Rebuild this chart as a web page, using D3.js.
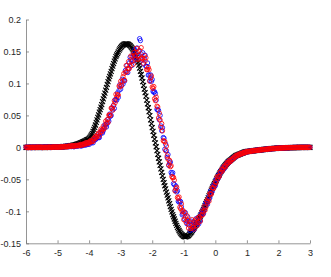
<!DOCTYPE html>
<html>
<head>
<meta charset="utf-8">
<script src="https://cdn.jsdelivr.net/npm/d3@7"></script>
<style>
  body { margin: 0; background: #fff; }
  svg { display: block; }
  .tick text { font-family: "Liberation Sans", Arial, sans-serif; font-size: 9px; fill: #262626; }
</style>
</head>
<body>
<svg id="chart" width="331" height="277"></svg>
<script>
// sample grid (x) shared by all three series: -6 .. 3
var xStart = -6, xStep = 0.025, nPts = 361;
var xValues = d3.range(nPts).map(function (i) { return +(xStart + i * xStep).toFixed(3); });

// black 'x' markers (model curve)
var blackY = [
  // -6 .. -4.525
  0,0,0,0,0,0,0,0,0,0,0,0,0,0,0,0,0,0,0.0001,0.0001,
  0.0001,0.0001,0.0001,0.0001,0.0001,0.0002,0.0002,0.0002,0.0002,0.0002,0.0003,0.0003,0.0003,0.0003,0.0004,0.0004,0.0005,0.0005,0.0005,0.0006,
  0.0006,0.0006,0.0007,0.0007,0.0008,0.0009,0.0010,0.0011,0.0012,0.0013,0.0014,0.0015,0.0017,0.0018,0.0020,0.0022,0.0024,0.0026,0.0029,0.0031,
  // -4.5 .. 0.5
  0.0034,0.0037,0.0040,0.0043,0.0047,0.0051,0.0055,0.0059,
  0.0064,0.0069,0.0074,0.0079,0.0085,0.0091,0.0097,0.0103,
  0.0110,0.0116,0.0122,0.0130,0.0140,0.0156,0.0175,0.0196,
  0.0220,0.0249,0.0280,0.0314,0.0350,0.0390,0.0430,0.0470,
  0.0510,0.0550,0.0590,0.0630,0.0670,0.0715,0.0760,0.0805,
  0.0850,0.0895,0.0940,0.0985,0.1030,0.1070,0.1110,0.1150,
  0.1190,0.1230,0.1270,0.1310,0.1350,0.1385,0.1420,0.1445,
  0.1470,0.1495,0.1520,0.1540,0.1560,0.1575,0.1590,0.1600,
  0.1610,0.1615,0.1620,0.1620,0.1620,0.1615,0.1610,0.1600,
  0.1590,0.1575,0.1560,0.1540,0.1520,0.1495,0.1470,0.1440,
  0.1410,0.1370,0.1330,0.1285,0.1240,0.1190,0.1140,0.1085,
  0.1030,0.0970,0.0910,0.0855,0.0800,0.0740,0.0680,0.0620,
  0.0560,0.0495,0.0430,0.0370,0.0310,0.0250,0.0190,0.0130,
  0.0070,0.0010,-0.0050,-0.0110,-0.0170,-0.0225,-0.0280,-0.0335,
  -0.0390,-0.0445,-0.0500,-0.0550,-0.0600,-0.0650,-0.0700,-0.0745,
  -0.0790,-0.0835,-0.0880,-0.0925,-0.0970,-0.1010,-0.1050,-0.1085,
  -0.1120,-0.1155,-0.1190,-0.1220,-0.1250,-0.1275,-0.1300,-0.1320,
  -0.1340,-0.1355,-0.1370,-0.1380,-0.1390,-0.1395,-0.1400,-0.1395,
  -0.1390,-0.1385,-0.1380,-0.1365,-0.1350,-0.1335,-0.1320,-0.1300,
  -0.1280,-0.1260,-0.1240,-0.1220,-0.1200,-0.1175,-0.1150,-0.1125,
  -0.1100,-0.1075,-0.1050,-0.1025,-0.1000,-0.0970,-0.0940,-0.0910,
  -0.0880,-0.0850,-0.0820,-0.0790,-0.0760,-0.0730,-0.0700,-0.0670,
  -0.0640,-0.0615,-0.0590,-0.0565,-0.0540,-0.0515,-0.0490,-0.0465,
  -0.0440,-0.0420,-0.0400,-0.0380,-0.0360,-0.0340,-0.0320,-0.0305,
  -0.0290,-0.0275,-0.0260,-0.0245,-0.0230,-0.0220,-0.0210,-0.0200,
  -0.0190,
  // 0.525 .. 3
  -0.0180,-0.0170,-0.0160,-0.0150,-0.0140,-0.0130,-0.0125,-0.0120,-0.0115,-0.0110,-0.0105,-0.0100,-0.0095,-0.0090,-0.0085,-0.0080,-0.0075,-0.0070,-0.0068,-0.0066,
  -0.0064,-0.0063,-0.0061,-0.0060,-0.0058,-0.0056,-0.0054,-0.0053,-0.0051,-0.0050,-0.0048,-0.0047,-0.0045,-0.0044,-0.0042,-0.0041,-0.0039,-0.0038,-0.0036,-0.0035,
  -0.0033,-0.0032,-0.0030,-0.0029,-0.0027,-0.0026,-0.0025,-0.0024,-0.0022,-0.0021,-0.0020,-0.0019,-0.0018,-0.0017,-0.0016,-0.0015,-0.0014,-0.0013,-0.0012,-0.0011,
  -0.0011,-0.0010,-0.0010,-0.0009,-0.0009,-0.0008,-0.0008,-0.0007,-0.0007,-0.0006,-0.0006,-0.0005,-0.0005,-0.0004,-0.0004,-0.0004,-0.0003,-0.0003,-0.0003,-0.0003,
  -0.0002,-0.0002,-0.0002,-0.0002,-0.0002,-0.0001,-0.0001,-0.0001,-0.0001,-0.0001,-0.0001,-0.0001,0,0,0,0,0,0,0,0
];

// blue circles
var blueY = [
  0.0002,0.0005,-0.0004,0.0001,-0.0002,0.0006,0.0003,-0.0005,0.0004,0.0000,0.0005,-0.0003,0.0003,0.0007,-0.0001,0.0004,0.0000,0.0006,0.0003,0.0002,
  -0.0003,0.0004,0.0001,0.0006,-0.0001,0.0003,0.0007,0.0000,0.0005,0.0002,0.0008,-0.0001,0.0004,0.0006,0.0001,0.0007,0.0003,0.0009,0.0002,0.0005,
  0.0006,0.0001,0.0009,0.0003,0.0007,0.0012,0.0005,0.0010,0.0016,0.0008,0.0013,0.0021,0.0011,0.0017,0.0009,0.0020,0.0014,0.0024,0.0012,0.0019,
  0.0013,0.0010,0.0024,0.0020,0.0028,0.0018,0.0023,0.0031,
  0.0035,0.0030,0.0019,0.0030,0.0041,0.0031,0.0054,0.0042,
  0.0036,0.0065,0.0050,0.0066,0.0046,0.0082,0.0077,0.0071,
  0.0100,0.0072,0.0110,0.0142,0.0120,0.0139,0.0175,0.0149,
  0.0158,0.0153,0.0228,0.0219,0.0266,0.0226,0.0262,0.0310,
  0.0355,0.0350,0.0320,0.0375,0.0435,0.0410,0.0520,0.0485,
  0.0500,0.0619,0.0588,0.0659,0.0610,0.0747,0.0746,0.0739,
  0.0852,0.0782,0.0894,0.0980,0.0912,0.0968,0.1066,0.0991,
  0.1053,0.1038,0.1203,0.1179,0.1281,0.1171,0.1232,0.1320,
  0.1410,0.1370,0.1280,0.1360,0.1450,0.1355,0.1530,0.1410,
  0.1395,0.1554,0.1438,0.1504,0.1700,0.1670,0.1461,0.1369,
  0.1480,0.1305,0.1390,0.1440,0.1270,0.1265,0.1320,0.1130,
  0.1133,0.1043,0.1133,0.1034,0.1061,0.0876,0.0862,0.0870,
  0.0842,0.0739,0.0596,0.0584,0.0580,0.0432,0.0500,0.0336,
  0.0260,0.0307,0.0154,0.0142,-0.0030,0.0051,-0.0052,-0.0158,
  -0.0112,-0.0282,-0.0244,-0.0230,-0.0392,-0.0418,-0.0396,-0.0566,
  -0.0584,-0.0674,-0.0604,-0.0697,-0.0678,-0.0843,-0.0856,-0.0840,
  -0.0848,-0.0931,-0.1054,-0.1036,-0.1010,-0.1123,-0.1020,-0.1149,
  -0.1195,-0.1089,-0.1208,-0.1164,-0.1300,-0.1152,-0.1211,-0.1274,
  -0.1172,-0.1287,-0.1194,-0.1120,-0.1222,-0.1183,-0.1096,-0.1196,
  -0.1138,-0.1148,-0.1038,-0.1049,-0.0976,-0.1036,-0.0982,-0.0910,
  -0.0865,-0.0865,-0.0890,-0.0830,-0.0765,-0.0790,-0.0680,-0.0715,
  -0.0690,-0.0604,-0.0618,-0.0569,-0.0600,-0.0502,-0.0496,-0.0499,
  -0.0432,-0.0457,-0.0404,-0.0360,-0.0382,-0.0353,-0.0306,-0.0336,
  -0.0306,-0.0301,-0.0256,-0.0253,-0.0222,-0.0242,-0.0224,-0.0200,
  -0.0206,
  -0.0175,-0.0186,-0.0158,-0.0165,-0.0141,-0.0147,-0.0127,-0.0131,-0.0114,-0.0118,-0.0102,-0.0107,-0.0093,-0.0098,-0.0084,-0.0089,-0.0076,-0.0081,-0.0068,-0.0073,
  -0.0062,-0.0067,-0.0058,-0.0063,-0.0054,-0.0059,-0.0051,-0.0055,-0.0048,-0.0052,-0.0045,-0.0049,-0.0042,-0.0046,-0.0039,-0.0043,-0.0036,-0.0040,-0.0034,-0.0037,
  -0.0031,-0.0035,-0.0029,-0.0032,-0.0026,-0.0029,-0.0024,-0.0027,-0.0021,-0.0024,-0.0019,-0.0022,-0.0017,-0.0020,-0.0015,-0.0018,-0.0013,-0.0016,-0.0011,-0.0014,
  -0.0010,-0.0013,-0.0009,-0.0011,-0.0007,-0.0010,-0.0006,-0.0008,-0.0005,-0.0007,-0.0004,-0.0006,-0.0003,-0.0005,-0.0002,-0.0004,-0.0002,-0.0003,-0.0001,-0.0002,
  0.0000,-0.0002,0.0001,-0.0001,0.0000,-0.0002,0.0001,0.0000,-0.0001,0.0001,0.0000,0.0002,-0.0001,0.0001,0.0000,0.0001,-0.0001,0.0002,0.0000,0.0001
];

// red circles
var redY = [
  0.0004,-0.0003,0.0002,-0.0005,0.0003,0.0001,-0.0004,0.0005,-0.0002,0.0003,-0.0001,0.0004,-0.0003,0.0002,0.0006,-0.0002,0.0003,0.0005,-0.0001,0.0004,
  0.0002,-0.0004,0.0005,0.0000,-0.0002,0.0006,0.0001,-0.0003,0.0004,0.0007,0.0000,0.0005,-0.0002,0.0006,0.0003,0.0008,0.0001,0.0006,0.0009,0.0002,
  0.0001,0.0008,0.0002,0.0010,0.0005,0.0004,0.0012,0.0007,0.0013,0.0006,0.0018,0.0011,0.0009,0.0019,0.0014,0.0022,0.0015,0.0024,0.0019,0.0027,
  0.0025,0.0014,0.0025,0.0032,0.0023,0.0027,0.0036,0.0026,
  0.0028,0.0047,0.0037,0.0047,0.0033,0.0056,0.0053,0.0049,
  0.0076,0.0069,0.0055,0.0070,0.0088,0.0073,0.0108,0.0092,
  0.0097,0.0095,0.0143,0.0140,0.0173,0.0147,0.0170,0.0200,
  0.0224,0.0179,0.0238,0.0285,0.0244,0.0276,0.0332,0.0292,
  0.0315,0.0410,0.0380,0.0435,0.0390,0.0505,0.0505,0.0500,
  0.0614,0.0613,0.0582,0.0653,0.0730,0.0699,0.0830,0.0787,
  0.0819,0.0819,0.0959,0.0947,0.1033,0.0963,0.1026,0.1105,
  0.1154,0.1049,0.1178,0.1280,0.1184,0.1236,0.1342,0.1232,
  0.1270,0.1430,0.1340,0.1420,0.1300,0.1485,0.1440,0.1380,
  0.1549,0.1488,0.1372,0.1438,0.1515,0.1389,0.1560,0.1402,
  0.1390,0.1315,0.1440,0.1350,0.1400,0.1215,0.1220,0.1250,
  0.1214,0.1034,0.1088,0.1115,0.0944,0.0921,0.0952,0.0762,
  0.0730,0.0787,0.0644,0.0632,0.0460,0.0536,0.0428,0.0312,
  0.0372,0.0259,0.0106,0.0094,0.0090,-0.0053,0.0020,-0.0134,
  -0.0184,-0.0274,-0.0204,-0.0302,-0.0288,-0.0458,-0.0476,-0.0470,
  -0.0512,-0.0682,-0.0644,-0.0625,-0.0782,-0.0803,-0.0776,-0.0936,
  -0.0960,-0.0883,-0.1006,-0.0988,-0.1130,-0.1019,-0.1092,-0.1173,
  -0.1069,-0.1143,-0.1262,-0.1218,-0.1165,-0.1269,-0.1130,-0.1247,
  -0.1244,-0.1279,-0.1154,-0.1192,-0.1118,-0.1223,-0.1176,-0.1100,
  -0.1084,-0.1154,-0.1068,-0.0995,-0.1054,-0.1006,-0.0922,-0.0982,
  -0.0935,-0.0835,-0.0860,-0.0800,-0.0840,-0.0725,-0.0725,-0.0730,
  -0.0634,-0.0628,-0.0642,-0.0593,-0.0540,-0.0554,-0.0460,-0.0487,
  -0.0459,-0.0454,-0.0389,-0.0387,-0.0343,-0.0368,-0.0336,-0.0300,
  -0.0288,-0.0303,-0.0266,-0.0235,-0.0248,-0.0232,-0.0204,-0.0224,
  -0.0195,
  -0.0192,-0.0171,-0.0178,-0.0152,-0.0149,-0.0128,-0.0137,-0.0118,-0.0126,-0.0106,-0.0113,-0.0096,-0.0104,-0.0087,-0.0094,-0.0079,-0.0085,-0.0070,-0.0077,-0.0064,
  -0.0070,-0.0060,-0.0066,-0.0057,-0.0062,-0.0053,-0.0058,-0.0050,-0.0055,-0.0047,-0.0051,-0.0044,-0.0048,-0.0041,-0.0045,-0.0038,-0.0042,-0.0035,-0.0039,-0.0033,
  -0.0036,-0.0030,-0.0033,-0.0027,-0.0030,-0.0025,-0.0028,-0.0022,-0.0025,-0.0020,-0.0023,-0.0018,-0.0021,-0.0016,-0.0019,-0.0014,-0.0017,-0.0012,-0.0015,-0.0010,
  -0.0013,-0.0010,-0.0012,-0.0008,-0.0011,-0.0007,-0.0009,-0.0006,-0.0008,-0.0005,-0.0007,-0.0004,-0.0006,-0.0003,-0.0005,-0.0002,-0.0004,-0.0002,-0.0003,-0.0001,
  -0.0003,0.0000,-0.0002,0.0001,-0.0002,0.0000,-0.0001,0.0002,-0.0001,0.0000,0.0001,-0.0002,0.0001,0.0000,0.0002,-0.0001,0.0001,0.0000,0.0002,0.0000
];

var xTicks = [-6, -5, -4, -3, -2, -1, 0, 1, 2, 3];
var yTicks = [-0.15, -0.1, -0.05, 0, 0.05, 0.1, 0.15, 0.2];

var svg = d3.select("#chart");

var x = d3.scaleLinear().domain([-6, 3]).range([26, 310]);
var y = d3.scaleLinear().domain([-0.15, 0.2]).range([243.3, 19.5]);

// hyphen minus like matlab
function fmt(d) { return String(d).replace("\u2212", "-"); }

svg.append("g")
  .attr("transform", "translate(0,243.3)")
  .call(d3.axisBottom(x).tickValues(xTicks).tickFormat(fmt).tickSizeInner(-3).tickSizeOuter(0).tickPadding(6));

svg.append("g")
  .attr("transform", "translate(26,0)")
  .call(d3.axisLeft(y).tickValues(yTicks).tickFormat(fmt).tickSizeInner(-3).tickSizeOuter(0).tickPadding(5));

svg.selectAll(".domain, .tick line").attr("stroke", "#7a7a7a").attr("stroke-width", 0.8);

function pts(ys) {
  return ys.map(function (v, i) { return { x: xValues[i], y: v }; });
}

// black x markers first
var s = 2.5;
svg.append("g").selectAll("path")
  .data(pts(blackY))
  .join("path")
  .attr("transform", function (d) { return "translate(" + x(d.x) + "," + y(d.y) + ")"; })
  .attr("d", "M" + (-s) + "," + (-s) + "L" + s + "," + s + "M" + (-s) + "," + s + "L" + s + "," + (-s))
  .attr("stroke", "#000")
  .attr("stroke-width", 1.1)
  .attr("fill", "none");

// blue then red circles on top
[["#0000ff", blueY], ["#ff0000", redY]].forEach(function (ser) {
  svg.append("g").selectAll("circle")
    .data(pts(ser[1]))
    .join("circle")
    .attr("cx", function (d) { return x(d.x); })
    .attr("cy", function (d) { return y(d.y); })
    .attr("r", 2.2)
    .attr("fill", "none")
    .attr("stroke", ser[0])
    .attr("stroke-width", 0.8);
});
</script>
</body>
</html>
